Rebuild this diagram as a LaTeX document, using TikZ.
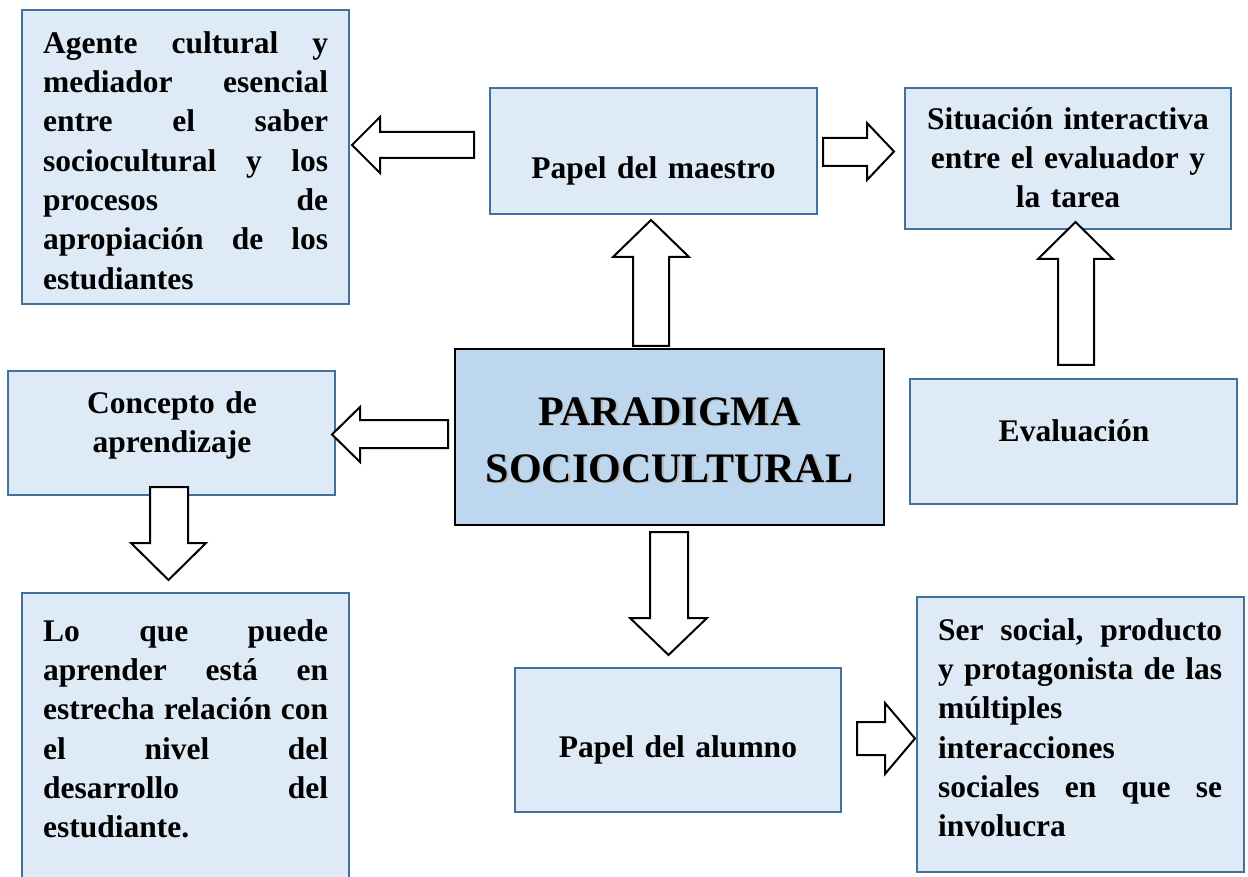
\documentclass[tikz,border=0pt]{standalone}
\usepackage{fontspec}
\setmainfont{Liberation Serif}
\definecolor{bordblue}{HTML}{41719C}
\definecolor{boxfill}{HTML}{DEEBF7}
\definecolor{centfill}{HTML}{BDD7EE}
\tikzset{
  box/.style={draw=bordblue, line width=2.2pt, fill=boxfill, inner sep=0pt, rectangle},
  centbox/.style={draw=black, line width=2.6pt, fill=centfill, inner sep=0pt, rectangle},
  txt/.style={inner sep=0pt, font=\bfseries\fontsize{31.5}{39.3}\selectfont},
  bigtxt/.style={inner sep=0pt, align=center, font=\bfseries\fontsize{42}{57}\selectfont},
  blk/.style={draw=black, line width=2pt, fill=white, line join=miter},
}
\newcommand\sk{\hskip 0.25em plus 1fill minus 0.15em\relax}
\newcommand\jl[2][285pt]{\leavevmode\hbox to #1{#2}}
\begin{document}
\begin{tikzpicture}[x=1pt,y=-1pt]
\useasboundingbox (0,0) rectangle (1248,877);
\fill[white] (0,0) rectangle (1248,877);

% boxes
\node[box, minimum width=327pt, minimum height=294pt] (agente) at (185.5,157) {};
\node[box, minimum width=327pt, minimum height=126pt] (maestro) at (653.5,151) {};
\node[box, minimum width=326pt, minimum height=141pt] (situacion) at (1068,158.5) {};
\node[box, minimum width=327pt, minimum height=124pt] (concepto) at (171.5,433) {};
\node[centbox, minimum width=429pt, minimum height=176pt] (central) at (669.5,437) {};
\node[box, minimum width=327pt, minimum height=125pt] (evaluacion) at (1073.5,441.5) {};
\node[box, minimum width=327pt, minimum height=297pt] (loque) at (185.5,741.5) {};
\node[box, minimum width=326pt, minimum height=144pt] (alumno) at (678,740) {};
\node[box, minimum width=327pt, minimum height=275pt] (ser) at (1080.5,734.5) {};

% texts
\node[txt, text width=285pt, align=left, anchor=north west] (tagente) at (43,25.5)
 {\strut\jl{Agente\sk cultural\sk y}\\\jl{mediador\sk esencial}\\\jl{entre\sk el\sk saber}\\\jl{sociocultural\sk y\sk los}\\\jl{procesos\sk de}\\\jl{apropiación\sk de\sk los}\\estudiantes};
\node[txt, text width=320pt, align=center, anchor=north] (tmaestro) at (653.5,150.5) {\strut Papel del maestro};
\node[txt, text width=320pt, align=center, anchor=north] (tsituacion) at (1068,101.5)
 {\strut Situación interactiva\\entre el evaluador y\\la tarea};
\node[txt, text width=320pt, align=center, anchor=north] (tconcepto) at (172,385.5)
 {\strut Concepto de\\aprendizaje};
\node[txt, text width=320pt, align=center, anchor=north] (tevaluacion) at (1074,413.5) {\strut Evaluación};
\node[txt, text width=320pt, align=center, anchor=north] (talumno) at (678,729.5) {\strut Papel del alumno};
\node[txt, text width=285pt, align=left, anchor=north west] (tloque) at (43,613.5)
 {\strut\jl{Lo\sk que\sk puede}\\\jl{aprender\sk está\sk en}\\\jl{estrecha\sk relación\sk con}\\\jl{el\sk nivel\sk del}\\\jl{desarrollo\sk del}\\estudiante.};
\node[txt, text width=284pt, align=left, anchor=north west] (tser) at (938,612.5)
 {\strut\jl[284pt]{Ser\sk social,\sk producto}\\\jl[284pt]{y\sk protagonista\sk de\sk las}\\múltiples\\interacciones\\\jl[284pt]{sociales\sk en\sk que\sk se}\\involucra};

% central title with soft shadow
\node[bigtxt, text=black!28, anchor=north] (tcentralsh) at (671,386.6) {\strut PARADIGMA\\SOCIOCULTURAL};
\node[bigtxt, anchor=north] (tcentral) at (669.5,385.1) {\strut PARADIGMA\\SOCIOCULTURAL};

% block arrows
\draw[blk] (474,132) -- (380,132) -- (380,117) -- (352,145) -- (380,173) -- (380,158) -- (474,158) -- cycle;
\draw[blk] (823,138) -- (867,138) -- (867,123) -- (894,151.5) -- (867,180) -- (867,166) -- (823,166) -- cycle;
\draw[blk] (633,346) -- (633,257) -- (613,257) -- (651,220) -- (689,257) -- (669,257) -- (669,346) -- cycle;
\draw[blk] (1058,365) -- (1058,259) -- (1038,259) -- (1075.5,222) -- (1113,259) -- (1094,259) -- (1094,365) -- cycle;
\draw[blk] (448,420) -- (360,420) -- (360,407) -- (332,434.5) -- (360,462) -- (360,448) -- (448,448) -- cycle;
\draw[blk] (150,487) -- (150,543) -- (131,543) -- (168.5,580) -- (206,543) -- (188,543) -- (188,487) -- cycle;
\draw[blk] (650,532) -- (650,618) -- (630,618) -- (668.5,655) -- (707,618) -- (688,618) -- (688,532) -- cycle;
\draw[blk] (857,722) -- (885,722) -- (885,703) -- (915,738.5) -- (885,774) -- (885,755) -- (857,755) -- cycle;
\end{tikzpicture}
\end{document}
